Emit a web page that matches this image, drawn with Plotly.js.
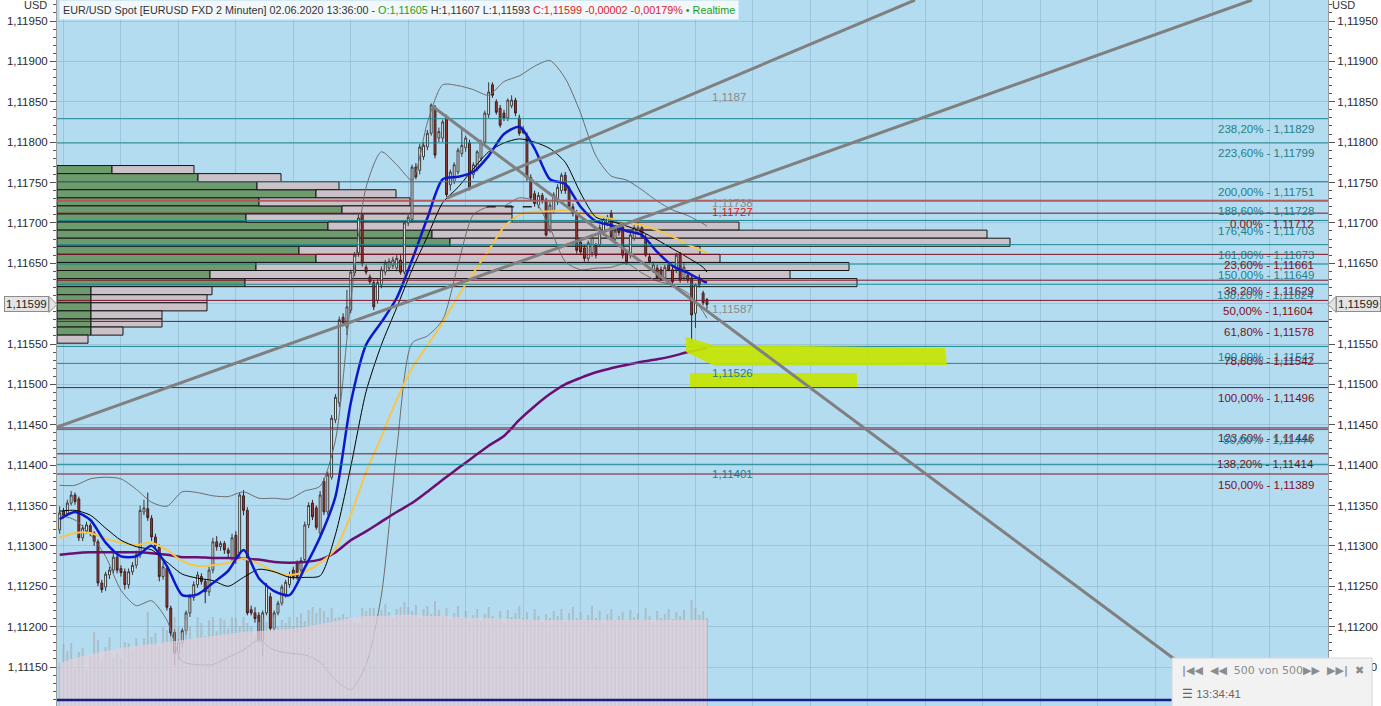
<!DOCTYPE html>
<html><head><meta charset="utf-8">
<script src="https://cdn.plot.ly/plotly-3.0.1.min.js"></script>
<style>html,body{margin:0;padding:0;background:#fff;overflow:hidden}#chart{width:1381px;height:706px}</style>
</head><body><div id="chart"></div>
<script>
// ---------- DATA ----------
const firstCandle = '2020-06-02T07:58:00Z';
const candleMinutes = 2;
const candleOpen = [
1.11320,1.11343,1.11340,1.11353,1.11363,1.11358,1.11310,1.11318,1.11325,1.11316,
1.11305,1.11254,1.11249,1.11264,1.11270,1.11286,1.11272,1.11268,1.11252,1.11268,
1.11276,1.11289,1.11342,1.11346,1.11334,1.11311,1.11298,1.11262,1.11272,1.11223,
1.11193,1.11167,1.11180,1.11195,1.11217,1.11236,1.11252,1.11262,1.11256,1.11243,
1.11270,1.11305,1.11299,1.11303,1.11295,1.11285,1.11313,1.11291,1.11362,1.11344,
1.11221,1.11217,1.11214,1.11183,1.11217,1.11237,1.11198,1.11217,1.11229,1.11240,
1.11252,1.11270,1.11279,1.11270,1.11283,1.11326,1.11353,1.11347,1.11316,1.11380,
1.11342,1.11385,1.11456,1.11477,1.11583,1.11571,1.11592,1.11638,1.11663,1.11710,
1.11645,1.11633,1.11626,1.11604,1.11623,1.11639,1.11644,1.11647,1.11644,1.11654,
1.11639,1.11700,1.11704,1.11769,1.11765,1.11782,1.11794,1.11811,1.11843,1.11805,
1.11805,1.11830,1.11747,1.11751,1.11763,1.11786,1.11793,1.11799,1.11760,1.11768,
1.11780,1.11800,1.11834,1.11871,1.11850,1.11842,1.11836,1.11830,1.11845,1.11852,
1.11830,1.11816,1.11807,1.11756,1.11736,1.11722,1.11734,1.11728,1.11692,1.11715,
1.11726,1.11740,1.11759,1.11743,1.11720,1.11712,1.11676,1.11669,1.11656,1.11663,
1.11672,1.11673,1.11688,1.11700,1.11712,1.11680,1.11695,1.11695,1.11663,1.11660,
1.11681,1.11688,1.11694,1.11682,1.11658,1.11642,1.11644,1.11642,1.11632,1.11648,
1.11642,1.11642,1.11660,1.11632,1.11635,1.11632,1.11588,1.11632,1.11613,1.11605];
const candleHigh = [
1.11349,1.11347,1.11357,1.11368,1.11366,1.11361,1.11326,1.11330,1.11328,1.11318,
1.11308,1.11258,1.11268,1.11274,1.11291,1.11290,1.11276,1.11272,1.11272,1.11280,
1.11294,1.11350,1.11357,1.11366,1.11338,1.11315,1.11302,1.11280,1.11276,1.11226,
1.11197,1.11184,1.11198,1.11220,1.11240,1.11256,1.11268,1.11266,1.11259,1.11274,
1.11310,1.11312,1.11306,1.11306,1.11298,1.11315,1.11318,1.11366,1.11369,1.11348,
1.11226,1.11224,1.11218,1.11220,1.11254,1.11242,1.11220,1.11232,1.11252,1.11258,
1.11268,1.11274,1.11282,1.11286,1.11330,1.11354,1.11357,1.11350,1.11368,1.11384,
1.11392,1.11462,1.11488,1.11584,1.11588,1.11617,1.11642,1.11664,1.11710,1.11712,
1.11648,1.11636,1.11629,1.11630,1.11646,1.11654,1.11656,1.11658,1.11660,1.11660,
1.11703,1.11710,1.11772,1.11774,1.11798,1.11800,1.11815,1.11848,1.11846,1.11818,
1.11828,1.11834,1.11766,1.11775,1.11793,1.11817,1.11808,1.11803,1.11775,1.11790,
1.11803,1.11839,1.11874,1.11874,1.11853,1.11846,1.11840,1.11854,1.11858,1.11855,
1.11834,1.11820,1.11812,1.11760,1.11740,1.11738,1.11737,1.11731,1.11726,1.11738,
1.11748,1.11762,1.11763,1.11746,1.11724,1.11716,1.11680,1.11673,1.11678,1.11686,
1.11675,1.11698,1.11708,1.11710,1.11716,1.11694,1.11698,1.11700,1.11666,1.11688,
1.11697,1.11700,1.11698,1.11686,1.11662,1.11652,1.11648,1.11646,1.11648,1.11652,
1.11646,1.11663,1.11664,1.11650,1.11640,1.11636,1.11625,1.11636,1.11616,1.11607];
const candleLow = [
1.11315,1.11334,1.11337,1.11350,1.11351,1.11306,1.11306,1.11315,1.11312,1.11300,
1.11250,1.11242,1.11244,1.11259,1.11266,1.11266,1.11262,1.11246,1.11247,1.11264,
1.11272,1.11285,1.11338,1.11331,1.11306,1.11296,1.11256,1.11258,1.11220,1.11188,
1.11152,1.11158,1.11174,1.11190,1.11212,1.11232,1.11248,1.11252,1.11229,1.11238,
1.11266,1.11294,1.11294,1.11290,1.11284,1.11280,1.11278,1.11286,1.11338,1.11214,
1.11214,1.11205,1.11180,1.11163,1.11214,1.11195,1.11194,1.11214,1.11226,1.11236,
1.11248,1.11258,1.11258,1.11266,1.11280,1.11322,1.11332,1.11320,1.11312,1.11338,
1.11338,1.11382,1.11452,1.11472,1.11572,1.11561,1.11588,1.11634,1.11658,1.11646,
1.11636,1.11624,1.11592,1.11600,1.11619,1.11635,1.11640,1.11643,1.11640,1.11636,
1.11636,1.11696,1.11700,1.11754,1.11760,1.11778,1.11790,1.11808,1.11780,1.11800,
1.11800,1.11732,1.11740,1.11748,1.11760,1.11782,1.11788,1.11740,1.11755,1.11764,
1.11776,1.11796,1.11830,1.11855,1.11834,1.11818,1.11826,1.11826,1.11842,1.11832,
1.11808,1.11810,1.11752,1.11728,1.11720,1.11718,1.11724,1.11683,1.11688,1.11712,
1.11722,1.11736,1.11736,1.11718,1.11708,1.11662,1.11660,1.11652,1.11652,1.11658,
1.11656,1.11670,1.11684,1.11696,1.11680,1.11676,1.11684,1.11656,1.11648,1.11656,
1.11678,1.11685,1.11680,1.11658,1.11650,1.11638,1.11630,1.11628,1.11628,1.11640,
1.11624,1.11638,1.11626,1.11628,1.11626,1.11551,1.11570,1.11620,1.11598,1.11593];
const candleClose = [
1.11341,1.11338,1.11353,1.11363,1.11355,1.11310,1.11322,1.11326,1.11316,1.11306,
1.11254,1.11246,1.11265,1.11270,1.11286,1.11270,1.11267,1.11252,1.11268,1.11276,
1.11289,1.11344,1.11347,1.11335,1.11311,1.11300,1.11262,1.11274,1.11224,1.11192,
1.11167,1.11180,1.11195,1.11217,1.11237,1.11252,1.11264,1.11256,1.11243,1.11270,
1.11305,1.11299,1.11303,1.11295,1.11291,1.11310,1.11283,1.11363,1.11344,1.11217,
1.11217,1.11210,1.11183,1.11217,1.11251,1.11198,1.11217,1.11229,1.11249,1.11255,
1.11264,1.11262,1.11262,1.11282,1.11326,1.11350,1.11336,1.11323,1.11363,1.11342,
1.11388,1.11458,1.11484,1.11580,1.11576,1.11596,1.11639,1.11660,1.11706,1.11650,
1.11639,1.11627,1.11596,1.11626,1.11642,1.11650,1.11652,1.11654,1.11656,1.11639,
1.11700,1.11707,1.11769,1.11757,1.11794,1.11796,1.11811,1.11846,1.11784,1.11813,
1.11825,1.11735,1.11763,1.11772,1.11790,1.11796,1.11805,1.11743,1.11772,1.11788,
1.11800,1.11836,1.11862,1.11858,1.11837,1.11821,1.11830,1.11852,1.11852,1.11836,
1.11811,1.11812,1.11756,1.11731,1.11724,1.11734,1.11728,1.11685,1.11722,1.11735,
1.11744,1.11759,1.11740,1.11720,1.11712,1.11666,1.11664,1.11656,1.11675,1.11682,
1.11660,1.11694,1.11704,1.11707,1.11683,1.11690,1.11688,1.11660,1.11652,1.11685,
1.11694,1.11694,1.11683,1.11660,1.11652,1.11648,1.11632,1.11630,1.11645,1.11642,
1.11627,1.11660,1.11629,1.11645,1.11629,1.11586,1.11623,1.11623,1.11601,1.11599];
const volume = [
43,62,55,63,40,54,58,36,50,74, 66,46,59,69,48,52,48,64,63,55,
68,60,68,94,69,73,60,79,76,70, 89,79,72,86,79,65,89,83,70,86,
89,75,88,86,78,89,88,80,89,83, 79,70,84,88,84,76,89,79,86,83,
89,80,89,93,85,96,99,93,98,95, 89,98,88,89,92,89,86,84,83,98,
95,98,98,90,96,102,94,88,97,99, 104,99,95,101,88,97,100,92,105,96,
90,98,86,93,100,88,95,84,91,97, 85,92,99,90,87,95,83,96,89,93,
100,88,94,86,97,90,84,92,88,95, 90,97,84,93,99,88,94,86,91,100,
88,95,83,92,97,86,90,94,85,96, 89,93,86,98,90,84,95,88,92,97,
87,94,90,96,85,106,98,91,95,88];
const maTimes = ['2020-06-02 07:58','2020-06-02 08:06','2020-06-02 08:14','2020-06-02 08:22','2020-06-02 08:30','2020-06-02 08:38','2020-06-02 08:46','2020-06-02 08:54','2020-06-02 09:02','2020-06-02 09:10','2020-06-02 09:18','2020-06-02 09:26','2020-06-02 09:34','2020-06-02 09:42','2020-06-02 09:50','2020-06-02 09:58','2020-06-02 10:06','2020-06-02 10:14','2020-06-02 10:22','2020-06-02 10:30','2020-06-02 10:38','2020-06-02 10:46','2020-06-02 10:54','2020-06-02 11:02','2020-06-02 11:10','2020-06-02 11:18','2020-06-02 11:26','2020-06-02 11:34','2020-06-02 11:42','2020-06-02 11:50','2020-06-02 11:58','2020-06-02 12:06','2020-06-02 12:14','2020-06-02 12:22','2020-06-02 12:30','2020-06-02 12:38','2020-06-02 12:46','2020-06-02 12:54','2020-06-02 13:02','2020-06-02 13:10','2020-06-02 13:18','2020-06-02 13:26','2020-06-02 13:34','2020-06-02 13:36'];
const maFast = [1.11333,1.11342,1.11332,1.11304,1.11287,1.11287,1.11300,1.11275,1.11239,1.11240,1.11254,1.11269,1.11295,1.11260,1.11244,1.11239,1.11273,1.11311,1.11361,1.11477,1.11549,1.11577,1.11607,1.11654,1.11706,1.11754,1.11757,1.11763,1.11783,1.11810,1.11819,1.11792,1.11754,1.11748,1.11720,1.11702,1.11697,1.11690,1.11685,1.11664,1.11647,1.11638,1.11628,1.11626];
const maMid = [1.11343,1.11344,1.11338,1.11322,1.11307,1.11299,1.11295,1.11280,1.11265,1.11260,1.11257,1.11250,1.11261,1.11271,1.11268,1.11261,1.11261,1.11263,1.11314,1.11398,1.11491,1.11549,1.11595,1.11642,1.11683,1.11725,1.11744,1.11767,1.11788,1.11799,1.11804,1.11800,1.11792,1.11775,1.11737,1.11707,1.11702,1.11696,1.11689,1.11679,1.11668,1.11657,1.11645,1.11639];
const maSlow = [1.11310,1.11316,1.11316,1.11309,1.11304,1.11301,1.11304,1.11295,1.11281,1.11275,1.11276,1.11279,1.11284,1.11278,1.11268,1.11264,1.11268,1.11279,1.11296,1.11338,1.11392,1.11435,1.11481,1.11520,1.11548,1.11577,1.11609,1.11638,1.11666,1.11695,1.11710,1.11714,1.11714,1.11716,1.11712,1.11709,1.11705,1.11701,1.11697,1.11691,1.11683,1.11673,1.11665,1.11663];
const maLong = [1.11289,1.11291,1.11292,1.11292,1.11292,1.11292,1.11291,1.11289,1.11286,1.11286,1.11285,1.11285,1.11284,1.11283,1.11280,1.11279,1.11280,1.11283,1.11292,1.11307,1.11318,1.11330,1.11342,1.11353,1.11367,1.11382,1.11396,1.11410,1.11424,1.11436,1.11456,1.11473,1.11488,1.11500,1.11508,1.11515,1.11520,1.11524,1.11528,1.11531,1.11535,1.11540,1.11544,1.11545];
const bbUpper = [1.11375,1.11375,1.11383,1.11385,1.11383,1.11370,1.11354,1.11349,1.11367,1.11366,1.11362,1.11361,1.11367,1.11359,1.11359,1.11358,1.11368,1.11374,1.11431,1.11603,1.11744,1.11788,1.11772,1.11753,1.11824,1.11871,1.11870,1.11865,1.11858,1.11875,1.11882,1.11894,1.11901,1.11879,1.11836,1.11783,1.11758,1.11753,1.11741,1.11727,1.11716,1.11709,1.11699,1.11696];
const bbLower = [1.11338,1.11332,1.11314,1.11287,1.11245,1.11226,1.11232,1.11208,1.11157,1.11153,1.11153,1.11162,1.11171,1.11183,1.11171,1.11167,1.11165,1.11156,1.11134,1.11122,1.11153,1.11239,1.11419,1.11551,1.11560,1.11580,1.11648,1.11710,1.11720,1.11721,1.11731,1.11727,1.11694,1.11652,1.11642,1.11644,1.11645,1.11650,1.11638,1.11628,1.11623,1.11613,1.11590,1.11582];
const volumeAvg = [43,48,52,55,58,60,62,64,66,68,70,72,74,75,76,77,79,82,85,88,90,90,91,91,90,90,89,88,88,87,87,86,86,86,86,86,86,86,86,86,86,86,86,86];
const profilePrice = [1.11766,1.11756,1.11746,1.11736,1.11726,1.11716,1.11706,1.11696,1.11686,1.11676,1.11666,1.11656,1.11646,1.11636,1.11626,1.11616,1.11606,1.11596,1.11586,1.11576,1.11566,1.11556];
const profileBuy = [55,141,200,259,202,285,189,271,375,393,242,259,199,153,188,34,34,34,34,34,34,0];
const profileSell = [82,83,82,80,151,170,266,411,555,560,401,404,593,580,612,121,116,116,71,71,32,31];
const fibTeal = [1.11829,1.11799,1.11751,1.11728,1.11703,1.11673,1.11649,1.11624,1.11547,1.11526,1.11444,1.11401];
const fibRed = [1.11712,1.11661,1.11629,1.11604,1.11578,1.11496,1.11446,1.11414,1.11389];
const fibLabels = [
 ['238,20% - 1,11829',1.11829,'t'],['223,60% - 1,11799',1.11799,'t'],['200,00% - 1,11751',1.11751,'t'],
 ['188,60% - 1,11728',1.11728,'t'],['0,00% - 1,11712',1.11712,'r'],['176,40% - 1,11703',1.11703,'t'],
 ['161,80% - 1,11673',1.11673,'t'],['23,60% - 1,11661',1.11661,'r'],['150,00% - 1,11649',1.11649,'t'],
 ['38,20% - 1,11629',1.11629,'r'],['138,20% - 1,11624',1.11624,'t'],['50,00% - 1,11604',1.11604,'r'],
 ['61,80% - 1,11578',1.11578,'r'],['100,00% - 1,11547',1.11547,'t'],['78,60% - 1,11542',1.11542,'r'],
 ['100,00% - 1,11496',1.11496,'r'],['123,60% - 1,11446',1.11446,'r'],['50,00% - 1,11444',1.11444,'t'],
 ['138,20% - 1,11414',1.11414,'r'],['150,00% - 1,11389',1.11389,'r']];
const lastPrice = 1.11599;

// ---------- SETUP ----------
const T0 = Date.parse(firstCandle);
const candleTimes = candleOpen.map((_, i) => new Date(T0 + i*candleMinutes*60000).toISOString().slice(0,19).replace('T',' '));
const Y_RANGE = [1.111017, 1.11976];
const X_RANGE = ['2020-06-02 07:56:36', '2020-06-02 19:00:18'];
const TEAL = '#1c8791', TEALT = '#1f8088', RED = '#7e1429', REDT = '#7c1022';
const FONT = 'Liberation Sans, Arial, sans-serif';
const ms = s => Date.parse(s.replace(' ', 'T') + 'Z');

const traces = [];
// volume profile
traces.push({type:'bar', orientation:'h', x:profileBuy, y:profilePrice, width:0.0001, xaxis:'x', yaxis:'y',
  marker:{color:'#6e9b6e', line:{color:'#151515', width:1}}, hoverinfo:'skip'});
traces.push({type:'bar', orientation:'h', x:profileSell, base:profileBuy, y:profilePrice, width:0.0001, xaxis:'x', yaxis:'y',
  marker:{color:'#cbc1c9', line:{color:'#151515', width:1}}, hoverinfo:'skip'});
// volume
traces.push({type:'scatter', mode:'none', x:maTimes, y:volumeAvg, fill:'tozeroy', fillcolor:'rgba(228,208,216,0.7)',
  line:{shape:'spline'}, xaxis:'x2', yaxis:'y3', hoverinfo:'skip'});
traces.push({type:'bar', x:candleTimes, y:volume, width:60000, xaxis:'x2', yaxis:'y3',
  marker:{color:'rgba(165,168,172,0.6)'}, hoverinfo:'skip'});
// candles
traces.push({type:'candlestick', x:candleTimes, open:candleOpen, high:candleHigh, low:candleLow, close:candleClose,
  xaxis:'x2', yaxis:'y2', whiskerwidth:0,
  increasing:{line:{color:'#3a3a3a', width:1}, fillcolor:'#ffffff'},
  decreasing:{line:{color:'#3d1d1d', width:1}, fillcolor:'#a5382d'}, hoverinfo:'skip'});
// indicators
const ln = (y, color, width) => ({type:'scatter', mode:'lines', x:maTimes, y:y, xaxis:'x2', yaxis:'y2',
  line:{color:color, width:width, shape:'spline', smoothing:0.7}, hoverinfo:'skip'});
traces.push(ln(bbUpper, '#6d6d6d', 1));
traces.push(ln(bbLower, '#6d6d6d', 1));
traces.push(ln(maLong, '#6b0f72', 2.5));
traces.push(ln(maSlow, '#f5c64a', 2));
traces.push(ln(maMid, '#000000', 1));
traces.push(ln(maFast, '#0c18cc', 2.5));

// ---------- SHAPES ----------
const shapes = [];
fibTeal.forEach(p => shapes.push({type:'line', xref:'paper', x0:0, x1:1, yref:'y', y0:p, y1:p, line:{color:TEAL, width:1}, layer:'above'}));
fibRed.forEach(p => shapes.push({type:'line', xref:'paper', x0:0, x1:1, yref:'y', y0:p, y1:p, line:{color:RED, width:1}, layer:'above'}));
shapes.push({type:'line', xref:'paper', x0:0, x1:1, yref:'y', y0:1.11727, y1:1.11727, line:{color:'#d84848', width:1.5}, layer:'above'});
shapes.push({type:'line', xref:'paper', x0:0, x1:1, yref:'y', y0:1.11109, y1:1.11109, line:{color:'#1b1b86', width:2.5}, layer:'above'});
shapes.push({type:'line', xref:'x2', yref:'y2', x0:'2020-06-02 11:41', x1:'2020-06-02 12:05', y0:1.1172, y1:1.1172, line:{color:'#222', width:1.5, dash:'dash'}, layer:'above'});
// highlight zones
const poly = [['2020-06-02 13:25:02',1.115587],['2020-06-02 13:39:08',1.115488],['2020-06-02 15:40:18',1.11545],['2020-06-02 15:41:20',1.11524],['2020-06-02 13:40:11',1.115228],['2020-06-02 13:25:02',1.115401]];
shapes.push({type:'path', xref:'x2', yref:'y2', layer:'above', line:{width:0}, fillcolor:'rgba(198,228,0,0.92)',
  path: poly.map((p,i)=> (i?'L':'M') + ms(p[0]) + ',' + p[1]).join(' ') + ' Z'});
shapes.push({type:'rect', xref:'x2', yref:'y2', x0:'2020-06-02 13:27:07', x1:'2020-06-02 14:54:20', y0:1.114967, y1:1.115141,
  line:{width:0}, fillcolor:'rgba(198,228,0,0.92)', layer:'above'});
// trend lines
const tl = (a,b) => ({type:'line', xref:'x2', yref:'y2', x0:a[0], y0:a[1], x1:b[0], y1:b[1], line:{color:'#808080', width:3}, layer:'above'});
shapes.push(tl(['2020-06-02 07:56:36',1.114472],['2020-06-02 18:20:36',1.11976]));
shapes.push(tl(['2020-06-02 11:20:12',1.117308],['2020-06-02 15:24:36',1.11976]));
shapes.push(tl(['2020-06-02 11:12:24',1.118447],['2020-06-02 18:12:48',1.11102]));
// price markers arrows
const py = (lastPrice - Y_RANGE[0])/(Y_RANGE[1]-Y_RANGE[0]);
const h = 8/706;
shapes.push({type:'path', xref:'paper', yref:'paper', path:`M ${-8/1271},${py+h} L 0,${py} L ${-8/1271},${py-h} Z`, fillcolor:'#e4e4e4', line:{color:'#8c8c8c', width:1}});
shapes.push({type:'path', xref:'paper', yref:'paper', path:`M ${1+8/1271},${py+h} L 1,${py} L ${1+8/1271},${py-h} Z`, fillcolor:'#e4e4e4', line:{color:'#8c8c8c', width:1}});
// navigator box
shapes.push({type:'rect', xref:'paper', yref:'paper', x0:(1172-57)/1271, x1:(1372-57)/1271, y0:-0.02, y1:(706-658)/706,
  fillcolor:'#f2f2f2', line:{color:'#d6d6d6', width:1}, layer:'above'});

// ---------- ANNOTATIONS ----------
const ann = [];
fibLabels.forEach(([t,p,c]) => ann.push({text:t, xref:'paper', x:(1316-57)/1271, xanchor:'right', yref:'y', y:p, yanchor:'middle', yshift:-10.5,
  showarrow:false, font:{family:FONT, size:11.5, color: c==='t'?TEALT:REDT}}));
const sideLbl = (t,p,color) => ann.push({text:t, xref:'x2', x:'2020-06-02 13:37:30', xanchor:'left', yref:'y', y:p, yanchor:'middle',
  showarrow:false, font:{family:FONT, size:11.5, color:color}});
sideLbl('1,1187', 1.118559, '#8a8a8a');
sideLbl('1,11738', 1.117246, '#8a8a8a');
sideLbl('1,11727', 1.117135, '#e01818');
sideLbl('1,11587', 1.115934, '#8a8a8a');
sideLbl('1,11526', 1.115141, TEALT);
sideLbl('1,11401', 1.11389, TEALT);
ann.push({text:'EUR/USD Spot [EURUSD FXD 2 Minuten] 02.06.2020 13:36:00 - <span style="color:#19a019">O:1,11605</span> H:1,11607 L:1,11593 <span style="color:#e0191b">C:1,11599 -0,00002 -0,00179%</span> <span style="color:#19a019">• Realtime</span>',
  xref:'paper', x:0, xanchor:'left', xshift:2, yref:'paper', y:1, yanchor:'top', showarrow:false,
  bgcolor:'rgba(244,248,251,0.95)', borderpad:3, font:{family:FONT, size:10.8, color:'#333'}});
ann.push({text:'1,11599', xref:'paper', x:0, xanchor:'right', xshift:-8, yref:'y', y:lastPrice, yanchor:'middle', showarrow:false,
  bgcolor:'#e4e4e4', bordercolor:'#8c8c8c', borderwidth:1, borderpad:1, font:{family:FONT, size:11.5, color:'#222'}});
ann.push({text:'1,11599', xref:'paper', x:1, xanchor:'left', xshift:8, yref:'y', y:lastPrice, yanchor:'middle', showarrow:false,
  bgcolor:'#e4e4e4', bordercolor:'#8c8c8c', borderwidth:1, borderpad:1, font:{family:FONT, size:11.5, color:'#222'}});
ann.push({text:'USD', xref:'paper', x:0, xanchor:'right', xshift:-8, yref:'paper', y:1, yanchor:'top', yshift:3, showarrow:false, font:{family:FONT, size:11, color:'#333'}});
ann.push({text:'USD', xref:'paper', x:1, xanchor:'left', xshift:2, yref:'paper', y:1, yanchor:'top', yshift:3, showarrow:false, font:{family:FONT, size:11, color:'#333'}});
ann.push({text:'<b>|◀◀</b>  <b>◀◀</b>  500 von 500<b>▶▶</b>  <b>▶▶|</b>  <b>✖</b>', xref:'paper', x:(1180-57)/1271, xanchor:'left', yref:'paper', y:(706-670)/706, yanchor:'middle',
  showarrow:false, font:{family:'DejaVu Sans, sans-serif', size:11, color:'#8c8c8c'}});
ann.push({text:'☰ 13:34:41', xref:'paper', x:(1180-57)/1271, xanchor:'left', yref:'paper', y:(706-694)/706, yanchor:'middle',
  showarrow:false, font:{family:FONT, size:11.5, color:'#666'}});

// ---------- LAYOUT ----------
const yAxisBase = {range:Y_RANGE, dtick:0.0005, tick0:1.1, tickformat:'.5f', ticks:'outside', ticklen:6, tickcolor:'#555', tickwidth:1,
  showline:true, linecolor:'#9a9a9a', zeroline:false, fixedrange:true, tickfont:{family:FONT, size:11.5, color:'#2a2a2a'},
  minor:{dtick:0.0001, tick0:1.1, ticks:'outside', ticklen:3, tickcolor:'#555', showgrid:false}};
const layout = {
  width:1381, height:706, margin:{l:57, r:53, t:0, b:0, pad:0},
  paper_bgcolor:'#ffffff', plot_bgcolor:'#b3dcf0', separators:',.', showlegend:false, barmode:'overlay',
  font:{family:FONT, size:11, color:'#222'},
  xaxis:{range:[0,1271], visible:false, fixedrange:true, rangeslider:{visible:false}},
  xaxis2:{type:'date', overlaying:'x', anchor:'y', range:X_RANGE, showticklabels:false, ticks:'', showgrid:true,
    gridcolor:'rgba(100,145,170,0.28)', gridwidth:1, dtick:1800000, tick0:'2020-06-02 08:00', zeroline:false, fixedrange:true, rangeslider:{visible:false}},
  yaxis:Object.assign({}, yAxisBase, {side:'left', showgrid:true, gridcolor:'rgba(100,145,170,0.28)'}),
  yaxis2:Object.assign({}, yAxisBase, {overlaying:'y', side:'right', anchor:'x2', showgrid:false}),
  yaxis3:{overlaying:'y', anchor:'x2', range:[0,706], visible:false, fixedrange:true},
  shapes:shapes, annotations:ann
};
Plotly.newPlot('chart', traces, layout, {staticPlot:true, displayModeBar:false});
</script></body></html>
